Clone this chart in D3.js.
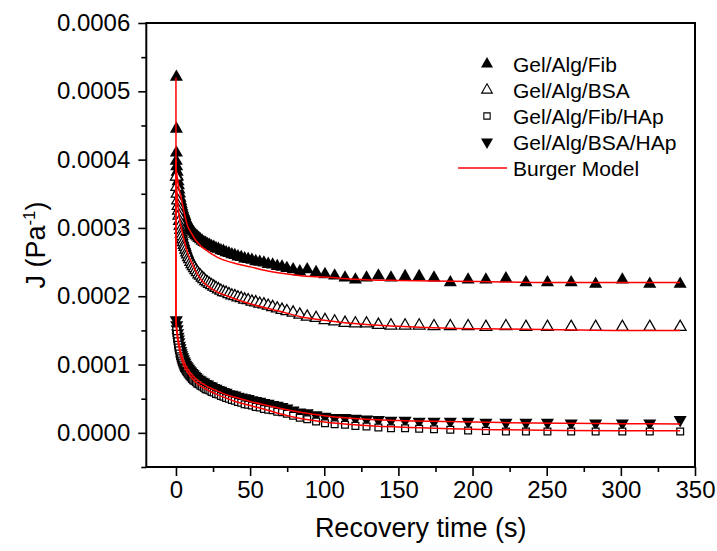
<!DOCTYPE html>
<html>
<head>
<meta charset="utf-8">
<script src="https://cdnjs.cloudflare.com/ajax/libs/d3/7.8.5/d3.min.js"></script>
<style>
  html, body { margin: 0; padding: 0; background: #fff; }
  svg { display: block; font-family: Arial, "Liberation Sans", sans-serif; }
</style>
</head>
<body>
<svg id="chart" width="717" height="551"></svg>
<script>
// ---------------- DATA ----------------
const seriesNames = ["Gel/Alg/Fib", "Gel/Alg/BSA", "Gel/Alg/Fib/HAp", "Gel/Alg/BSA/HAp"];
const fitName = "Burger Model";

const xTickValues = [0, 50, 100, 150, 200, 250, 300, 350];
const yTickValues = [0, 0.0001, 0.0002, 0.0003, 0.0004, 0.0005, 0.0006];

// recovery times (s) shared by the measured series
const recoveryTime = [0.2, 0.5, 0.8, 1.1, 1.4, 1.7, 2.0, 2.4, 2.8, 3.2,
  3.6, 4.0, 4.5, 5.0, 5.5, 6.0, 6.6, 7.2, 7.8, 8.5,
  9.2, 10.0, 10.8, 11.6, 12.5, 13.4, 14.4, 15.4, 16.5, 17.6,
  18.8, 20.0, 21.3, 22.6, 24.0, 25.5, 27.0, 28.6, 30.3, 32.0,
  33.8, 35.7, 37.7, 39.7, 41.8, 44.0, 46.3, 48.7, 51.2, 53.8,
  56.5, 59.3, 62.2, 65.2, 68.3, 71.5, 74.8, 79.0, 83.5, 88.5,
  94.5, 100.5, 107, 114, 121, 128.5, 136.5, 145, 154.5, 164,
  174, 185, 197, 209, 222.5, 236, 250.5, 266.5, 283, 301,
  319.5, 340];

// first points of Gel/Alg/Fib (instant recovery spike)
const fibEarlyTime = [0.3, 0.3, 0.3];
const fibEarlyJ = [0.000521, 0.000445, 0.000410];

const fibJ = [0.000398, 0.000390, 0.000382, 0.000375, 0.000368, 0.000362, 0.000356, 0.000350, 0.000344, 0.000339,
  0.000335, 0.000331, 0.000327, 0.000323, 0.000320, 0.000317, 0.000313, 0.000310, 0.000307, 0.000304,
  0.000301, 0.000298, 0.000296, 0.000294, 0.000291, 0.000289, 0.000287, 0.000285, 0.000283, 0.000281,
  0.000279, 0.000278, 0.000276, 0.000275, 0.000273, 0.000272, 0.000270, 0.000269, 0.000267, 0.000266,
  0.000264, 0.000263, 0.000261, 0.000260, 0.000258, 0.000257, 0.000255, 0.000254, 0.000253, 0.000251,
  0.000250, 0.000249, 0.000247, 0.000246, 0.000244, 0.000243, 0.000241, 0.000239, 0.000236, 0.000239,
  0.000235, 0.000232, 0.000230, 0.000227, 0.000224, 0.000227, 0.000230, 0.000227, 0.000229, 0.000229,
  0.000227, 0.000220, 0.000224, 0.000224, 0.000226, 0.000220, 0.000220, 0.000220, 0.000218, 0.000224,
  0.000218, 0.000218];

const bsaJ = [0.000375, 0.000360, 0.000350, 0.000340, 0.000332, 0.000325, 0.000318, 0.000310, 0.000303, 0.000297,
  0.000292, 0.000288, 0.000283, 0.000279, 0.000275, 0.000272, 0.000268, 0.000264, 0.000261, 0.000257,
  0.000254, 0.000250, 0.000247, 0.000244, 0.000241, 0.000238, 0.000235, 0.000232, 0.000230, 0.000227,
  0.000225, 0.000222, 0.000220, 0.000218, 0.000216, 0.000214, 0.000212, 0.000210, 0.000208, 0.000206,
  0.000205, 0.000203, 0.000201, 0.000200, 0.000198, 0.000197, 0.000195, 0.000194, 0.000192, 0.000191,
  0.000189, 0.000188, 0.000186, 0.000184, 0.000182, 0.000180, 0.000178, 0.000176, 0.000173, 0.000170,
  0.000168, 0.000165, 0.000163, 0.000161, 0.000160, 0.000160, 0.000158, 0.000157, 0.000157, 0.000157,
  0.000156, 0.000156, 0.000156, 0.000155, 0.000156, 0.000155, 0.000155, 0.000155, 0.000155, 0.000155,
  0.000155, 0.000155];

const fibHApJ = [0.000150, 0.000145, 0.000139, 0.000134, 0.000129, 0.000125, 0.000121, 0.000116, 0.000112, 0.000109,
  0.000106, 0.000103, 0.000100, 0.000097, 0.000095, 0.000093, 0.000091, 0.000089, 0.000087, 0.000085,
  0.000083, 0.000081, 0.000079, 0.000077, 0.000076, 0.000074, 0.000072, 0.000071, 0.000069, 0.000068,
  0.000066, 0.000064, 0.000063, 0.000062, 0.000060, 0.000059, 0.000057, 0.000056, 0.000054, 0.000053,
  0.000051, 0.000050, 0.000048, 0.000047, 0.000045, 0.000044, 0.000042, 0.000041, 0.000040, 0.000038,
  0.000037, 0.000035, 0.000034, 0.000033, 0.000031, 0.000030, 0.000028, 0.000025, 0.000022, 0.000020,
  0.0000165, 0.000014, 0.0000127, 0.0000117, 0.0000102, 0.0000093, 0.0000078, 0.0000068, 0.0000068, 0.0000059,
  0.0000054, 0.0000044, 0.0000034, 0.0000029, 0.0000019, 0.0000019, 0.0000019, 0.0000019, 0.0000019, 0.0000019,
  0.0000019, 0.0000019];

const bsaHApJ = [0.000165, 0.000158, 0.000152, 0.000146, 0.000141, 0.000137, 0.000133, 0.000128, 0.000124, 0.000120,
  0.000117, 0.000114, 0.000111, 0.000108, 0.000105, 0.000103, 0.000100, 0.000098, 0.000096, 0.000094,
  0.000092, 0.000090, 0.000088, 0.000086, 0.000084, 0.000082, 0.000080, 0.000078, 0.000077, 0.000075,
  0.000074, 0.000072, 0.000071, 0.000069, 0.000068, 0.000066, 0.000065, 0.000063, 0.000062, 0.000060,
  0.000059, 0.000057, 0.000056, 0.000055, 0.000053, 0.000052, 0.000051, 0.000050, 0.000048, 0.000047,
  0.000046, 0.000044, 0.000043, 0.000041, 0.000040, 0.000038, 0.000036, 0.000033, 0.000030, 0.000029,
  0.000026, 0.000024, 0.000022, 0.000022, 0.000021, 0.000020, 0.000019, 0.000018, 0.000018, 0.0000165,
  0.0000165, 0.0000165, 0.0000165, 0.000015, 0.000015, 0.000015, 0.000015, 0.000014, 0.000014, 0.000014,
  0.000014, 0.000019];

// Burger model fits
const fitTime = [0, 0.01, 0.5, 1, 2, 3.6, 6, 8, 10, 13, 17, 22, 28, 35, 40, 50, 62, 70, 84, 100, 120, 150, 185, 220, 260, 300, 340];
const fibFit = [0.00052, 0.000395, 0.000380, 0.000372, 0.000358, 0.000343, 0.000318, 0.000302, 0.000294, 0.000283,
  0.000273, 0.000265, 0.000257, 0.000251, 0.000248, 0.000243, 0.000237, 0.000234, 0.000230, 0.000228,
  0.000225, 0.000223, 0.000222, 0.000221, 0.000220, 0.000220, 0.000220];
const bsaFit = [0.00040, 0.000385, 0.000358, 0.000342, 0.000320, 0.000300, 0.000278, 0.000262, 0.000252, 0.000238,
  0.000224, 0.000214, 0.000206, 0.000200, 0.000196, 0.000189, 0.000182, 0.000178, 0.000170, 0.000165,
  0.000160, 0.000156, 0.000153, 0.000152, 0.000151, 0.000150, 0.000150];
const fibHApFit = [0.00040, 0.000160, 0.000148, 0.000139, 0.000125, 0.000109, 0.000095, 0.000088, 0.000082, 0.000075,
  0.000068, 0.000062, 0.000056, 0.000050, 0.000046, 0.000040, 0.000033, 0.000028, 0.000021, 0.000016,
  0.000012, 0.0000085, 0.000006, 0.0000045, 0.0000035, 0.000003, 0.000003];
const bsaHApFit = [0.00040, 0.000168, 0.000155, 0.000146, 0.000131, 0.000116, 0.000101, 0.000093, 0.000087, 0.000080,
  0.000073, 0.000067, 0.000061, 0.000055, 0.000052, 0.000046, 0.000040, 0.000036, 0.000030, 0.000025,
  0.000021, 0.000018, 0.0000165, 0.000015, 0.000014, 0.0000135, 0.000013];

// ---------------- CHART ----------------
const svg = d3.select("#chart");
const box = { left: 146.3, right: 695, top: 23, bottom: 467 };

const x = d3.scaleLinear().domain([-20, 350]).range([box.left, box.right]);
const y = d3.scaleLinear().domain([-0.00005, 0.0006]).range([box.bottom, box.top]);

const FONT = "Arial, 'Liberation Sans', sans-serif";

// axes
const xAxis = d3.axisBottom(x).tickValues(xTickValues).tickSize(9).tickPadding(5).tickFormat(d3.format("d"));
svg.append("g").attr("transform", `translate(0,${box.bottom})`).call(xAxis);
const xMinor = d3.range(25, 350, 50);
svg.append("g").attr("transform", `translate(0,${box.bottom})`)
  .call(d3.axisBottom(x).tickValues(xMinor).tickSize(5).tickFormat(""));

const yAxis = d3.axisLeft(y).tickValues(yTickValues).tickSize(8).tickPadding(8).tickFormat(d3.format(".4f"));
svg.append("g").attr("transform", `translate(${box.left},0)`).call(yAxis);
const yMinor = [-0.00005, 0.00005, 0.00015, 0.00025, 0.00035, 0.00045, 0.00055];
svg.append("g").attr("transform", `translate(${box.left},0)`)
  .call(d3.axisLeft(y).tickValues(yMinor).tickSize(5).tickFormat(""));

svg.selectAll(".domain").remove();
svg.selectAll(".tick line").attr("stroke", "#000").attr("stroke-width", 1.6);
svg.selectAll(".tick text").attr("font-family", FONT).attr("font-size", 24).attr("fill", "#000");

// data layers
const plot = svg.append("g");
const triSym = d3.symbol(d3.symbolTriangle).size(74);
const triSymOpen = d3.symbol(d3.symbolTriangle).size(60);
const sqSym = d3.symbol(d3.symbolSquare).size(46);

function drawPoints(times, vals, cls, pathFn, style) {
  const data = times.map((t, i) => [t, vals[i]]);
  plot.append("g").attr("class", cls).selectAll("path").data(data).join("path")
    .attr("d", pathFn)
    .attr("transform", d => `translate(${x(d[0])},${y(d[1])})${style.rotate ? " rotate(180)" : ""}`)
    .attr("fill", style.fill).attr("stroke", style.stroke).attr("stroke-width", style.sw);
}

drawPoints(fibEarlyTime.concat(recoveryTime), fibEarlyJ.concat(fibJ), "fib", triSym(), { fill: "#000", stroke: "none", sw: 0 });
drawPoints(recoveryTime, bsaJ, "bsa", triSymOpen(), { fill: "#fff", stroke: "#000", sw: 1.25 });
drawPoints(recoveryTime, bsaHApJ, "bsahap", triSym(), { fill: "#000", stroke: "none", sw: 0, rotate: true });
drawPoints(recoveryTime, fibHApJ, "fibhap", sqSym(), { fill: "#fff", stroke: "#000", sw: 1.25 });

const line = d3.line().x(d => x(d[0])).y(d => y(d[1])).curve(d3.curveMonotoneX);
[fibFit, bsaFit, fibHApFit, bsaHApFit].forEach(fit => {
  plot.append("path")
    .datum(fitTime.map((t, i) => [t, fit[i]]))
    .attr("d", line).attr("fill", "none").attr("stroke", "#ff0000").attr("stroke-width", 1.5);
});

// frame
svg.append("rect")
  .attr("x", box.left).attr("y", box.top)
  .attr("width", box.right - box.left).attr("height", box.bottom - box.top)
  .attr("fill", "none").attr("stroke", "#000").attr("stroke-width", 2);

// axis titles
svg.append("text")
  .attr("x", (box.left + box.right) / 2).attr("y", 537)
  .attr("text-anchor", "middle").attr("font-family", FONT).attr("font-size", 27)
  .text("Recovery time (s)");

const yt = svg.append("text")
  .attr("transform", `translate(45,${(box.top + box.bottom) / 2}) rotate(-90)`)
  .attr("text-anchor", "middle").attr("font-family", FONT).attr("font-size", 27);
yt.append("tspan").text("J (Pa");
yt.append("tspan").attr("font-size", 17).attr("dy", -10).text("-1");
yt.append("tspan").attr("dy", 10).text(")");

// legend
const legX = 487, legTextX = 513, legY0 = 64, legDY = 26;
const leg = svg.append("g");
const legTri = d3.symbol(d3.symbolTriangle).size(62);
const legTriOpen = d3.symbol(d3.symbolTriangle).size(50);
const legSq = d3.symbol(d3.symbolSquare).size(40);
const legSyms = [
  { p: legTri(), fill: "#000", stroke: "none", rot: false },
  { p: legTriOpen(), fill: "#fff", stroke: "#000", rot: false },
  { p: legSq(), fill: "#fff", stroke: "#000", rot: false },
  { p: legTri(), fill: "#000", stroke: "none", rot: true }
];
seriesNames.forEach((name, i) => {
  const cy = legY0 + i * legDY;
  const s = legSyms[i];
  leg.append("path").attr("d", s.p)
    .attr("transform", `translate(${legX},${cy})${s.rot ? " rotate(180)" : ""}`)
    .attr("fill", s.fill).attr("stroke", s.stroke).attr("stroke-width", 1.1);
  leg.append("text").attr("x", legTextX).attr("y", cy + 7.5)
    .attr("font-family", FONT).attr("font-size", 21).text(name);
});
const fy = legY0 + 4 * legDY;
leg.append("line").attr("x1", 458).attr("x2", 507).attr("y1", fy).attr("y2", fy)
  .attr("stroke", "#ff0000").attr("stroke-width", 1.5);
leg.append("text").attr("x", legTextX).attr("y", fy + 7.5)
  .attr("font-family", FONT).attr("font-size", 21).text(fitName);
</script>
</body>
</html>
